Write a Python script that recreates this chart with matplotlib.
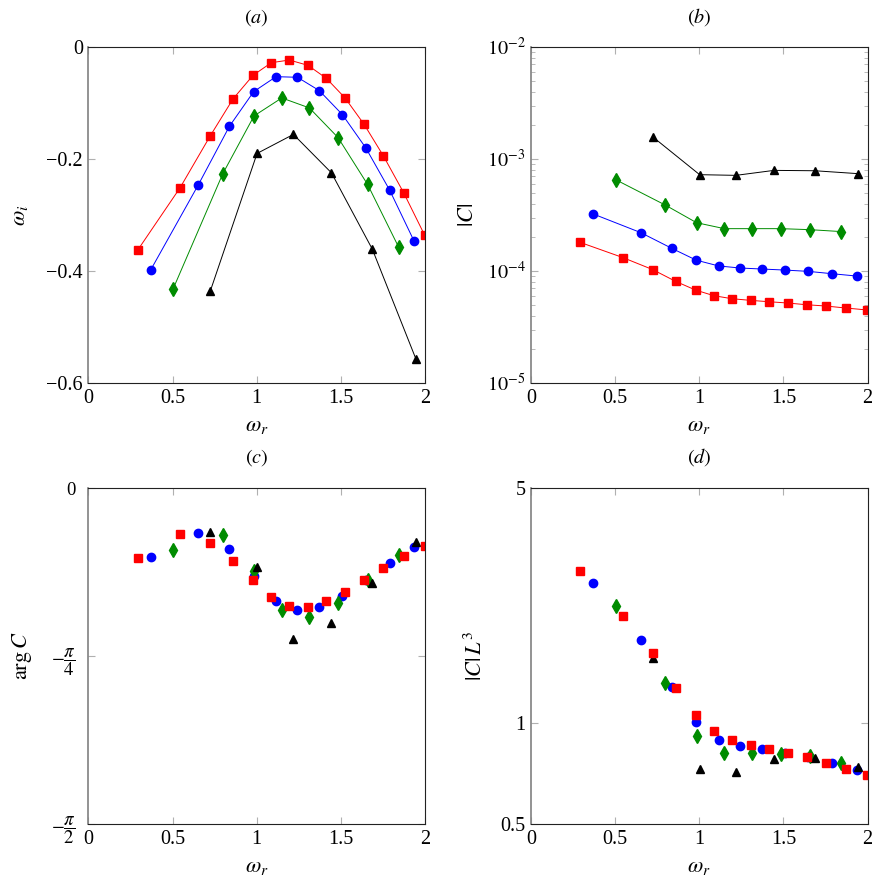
import numpy as np
import matplotlib
matplotlib.use("Agg")
import matplotlib.pyplot as plt
from matplotlib.ticker import FixedLocator, FixedFormatter, LogLocator, NullFormatter, NullLocator

plt.rcParams['font.family'] = ['Liberation Serif', 'DejaVu Serif']
plt.rcParams['mathtext.fontset'] = 'stix'
plt.rcParams['font.size'] = 14

# x positions (omega_r) of each series
x_red = [0.293, 0.545, 0.723, 0.859, 0.978, 1.087, 1.194, 1.305, 1.414, 1.525, 1.638, 1.752, 1.873, 1.998]
x_blue = [0.370, 0.653, 0.838, 0.982, 1.115, 1.242, 1.372, 1.509, 1.648, 1.790, 1.935]
x_green = [0.503, 0.798, 0.984, 1.149, 1.313, 1.483, 1.659, 1.844]
x_black = [0.725, 1.002, 1.218, 1.444, 1.687, 1.946]

# (a) omega_i
wi_red = [-0.3625, -0.251, -0.159, -0.0927, -0.0505, -0.0279, -0.0232, -0.0327, -0.0559, -0.0909, -0.138, -0.194, -0.260, -0.336]
wi_blue = [-0.398, -0.246, -0.1414, -0.0796, -0.0529, -0.054, -0.0778, -0.1206, -0.180, -0.2555, -0.3464]
wi_green = [-0.432, -0.2264, -0.123, -0.0909, -0.1087, -0.1616, -0.2454, -0.3577]
wi_black = [-0.435, -0.190, -0.156, -0.2246, -0.361, -0.557]

# (b) |C|
c_red = [1.80e-4, 1.32e-4, 1.03e-4, 8.09e-5, 6.76e-5, 6.02e-5, 5.66e-5, 5.47e-5, 5.32e-5, 5.18e-5, 5.00e-5, 4.87e-5, 4.67e-5, 4.49e-5]
c_blue = [3.23e-4, 2.20e-4, 1.59e-4, 1.25e-4, 1.11e-4, 1.064e-4, 1.042e-4, 1.02e-4, 9.93e-5, 9.46e-5, 9.02e-5]
c_green = [6.54e-4, 3.88e-4, 2.70e-4, 2.39e-4, 2.39e-4, 2.39e-4, 2.34e-4, 2.25e-4]
c_black = [1.57e-3, 7.25e-4, 7.15e-4, 7.92e-4, 7.86e-4, 7.40e-4]

# (c) arg C
arg_red = [-0.326, -0.2137, -0.2558, -0.340, -0.432, -0.5085, -0.5506, -0.555, -0.530, -0.488, -0.432, -0.374, -0.320, -0.273]
arg_blue = [-0.321, -0.212, -0.287, -0.413, -0.526, -0.571, -0.555, -0.504, -0.429, -0.351, -0.278]
arg_green = [-0.2917, -0.218, -0.390, -0.571, -0.602, -0.5366, -0.432, -0.312]
arg_black = [-0.205, -0.367, -0.704, -0.632, -0.445, -0.253]

# (d) |C| L^3
cl_red = [2.84, 2.08, 1.61, 1.266, 1.056, 0.944, 0.887, 0.857, 0.834, 0.813, 0.789, 0.759, 0.730, 0.699]
cl_blue = [2.61, 1.764, 1.281, 1.004, 0.891, 0.851, 0.834, 0.813, 0.793, 0.759, 0.725]
cl_green = [2.226, 1.316, 0.916, 0.815, 0.811, 0.809, 0.797, 0.759]
cl_black = [1.56, 0.730, 0.715, 0.782, 0.787, 0.737]

xs = [x_blue, x_green, x_black, x_red]
styles = [('#0000ff', 'o', 6.0), ('#008c00', 'd', 7.5), ('black', '^', 6.0), ('#ff0000', 's', 6.0)]

fig = plt.figure(figsize=(8.75, 8.86), dpi=100)
W, H = 0.3846, 0.3792
ax_a = fig.add_axes([0.1011, 0.5677, W, H])
ax_b = fig.add_axes([0.6069, 0.5677, W, H])
ax_c = fig.add_axes([0.1011, 0.0700, W, H])
ax_d = fig.add_axes([0.6069, 0.0700, W, H])


def style_axes(ax, title):
    ax.set_xlim(0, 2)
    ax.set_xticks([0, 0.5, 1, 1.5, 2])
    ax.set_xticklabels(['0', '0.5', '1', '1.5', '2'])
    ax.tick_params(which='both', direction='in', top=True, right=True,
                   color='#b0b0b0', labelsize=14.5, pad=4)
    ax.tick_params(which='major', length=5)
    ax.tick_params(which='minor', length=3)
    for s in ax.spines.values():
        s.set_linewidth(0.8)
        s.set_color('#222222')
    ax.spines['left'].set_color('#808080')
    ax.spines['left'].set_linewidth(1.2)
    ax.set_xlabel(r'$\omega_r$', fontsize=16, labelpad=7)
    ax.set_title(title, fontsize=14.5, pad=18)


# (a)
for x, y, (c, m, ms) in zip(xs, [wi_blue, wi_green, wi_black, wi_red], styles):
    ax_a.plot(x, y, color=c, marker=m, ms=ms, lw=0.7)
style_axes(ax_a, r'$(a)$')
ax_a.set_ylim(-0.6, 0)
ax_a.set_yticks([-0.6, -0.4, -0.2, 0])
ax_a.set_yticklabels(['\u22120.6', '\u22120.4', '\u22120.2', '0'])
ax_a.set_ylabel(r'$\omega_i$', fontsize=16, labelpad=12)

# (b)
for x, y, (c, m, ms) in zip(xs, [c_blue, c_green, c_black, c_red], styles):
    ax_b.plot(x, y, color=c, marker=m, ms=ms, lw=0.7)
ax_b.set_yscale('log')
style_axes(ax_b, r'$(b)$')
ax_b.set_ylim(1e-5, 1e-2)
ax_b.yaxis.set_major_locator(FixedLocator([1e-5, 1e-4, 1e-3, 1e-2]))
ax_b.yaxis.set_major_formatter(FixedFormatter([r'$10^{-5}$', r'$10^{-4}$', r'$10^{-3}$', r'$10^{-2}$']))
ax_b.yaxis.set_minor_locator(LogLocator(base=10, subs=np.arange(2, 10), numticks=20))
ax_b.yaxis.set_minor_formatter(NullFormatter())
ax_b.set_ylabel(r'$|C|$', fontsize=16, labelpad=6)

# (c)
for x, y, (c, m, ms) in zip(xs, [arg_blue, arg_green, arg_black, arg_red], styles):
    ax_c.plot(x, y, color=c, marker=m, ms=ms, linestyle='none')
style_axes(ax_c, r'$(c)$')
ax_c.set_ylim(-np.pi / 2, 0)
ax_c.set_yticks([-np.pi / 2, -np.pi / 4, 0])
ax_c.set_yticklabels([r'$-\dfrac{\pi}{2}$', r'$-\dfrac{\pi}{4}$', '0'])
ax_c.tick_params(axis='y', labelsize=13.5, pad=9)
ax_c.set_ylabel(r'$\arg C$', fontsize=16, labelpad=12)

# (d)
for x, y, (c, m, ms) in zip(xs, [cl_blue, cl_green, cl_black, cl_red], styles):
    ax_d.plot(x, y, color=c, marker=m, ms=ms, linestyle='none')
ax_d.set_yscale('log')
style_axes(ax_d, r'$(d)$')
ax_d.set_ylim(0.5, 5)
ax_d.yaxis.set_major_locator(FixedLocator([0.5, 1, 5]))
ax_d.yaxis.set_major_formatter(FixedFormatter(['0.5', '1', '5']))
ax_d.yaxis.set_minor_locator(NullLocator())
ax_d.set_ylabel(r'$|C|\,L^3$', fontsize=16, labelpad=10)

fig.savefig('out.png', dpi=100)
